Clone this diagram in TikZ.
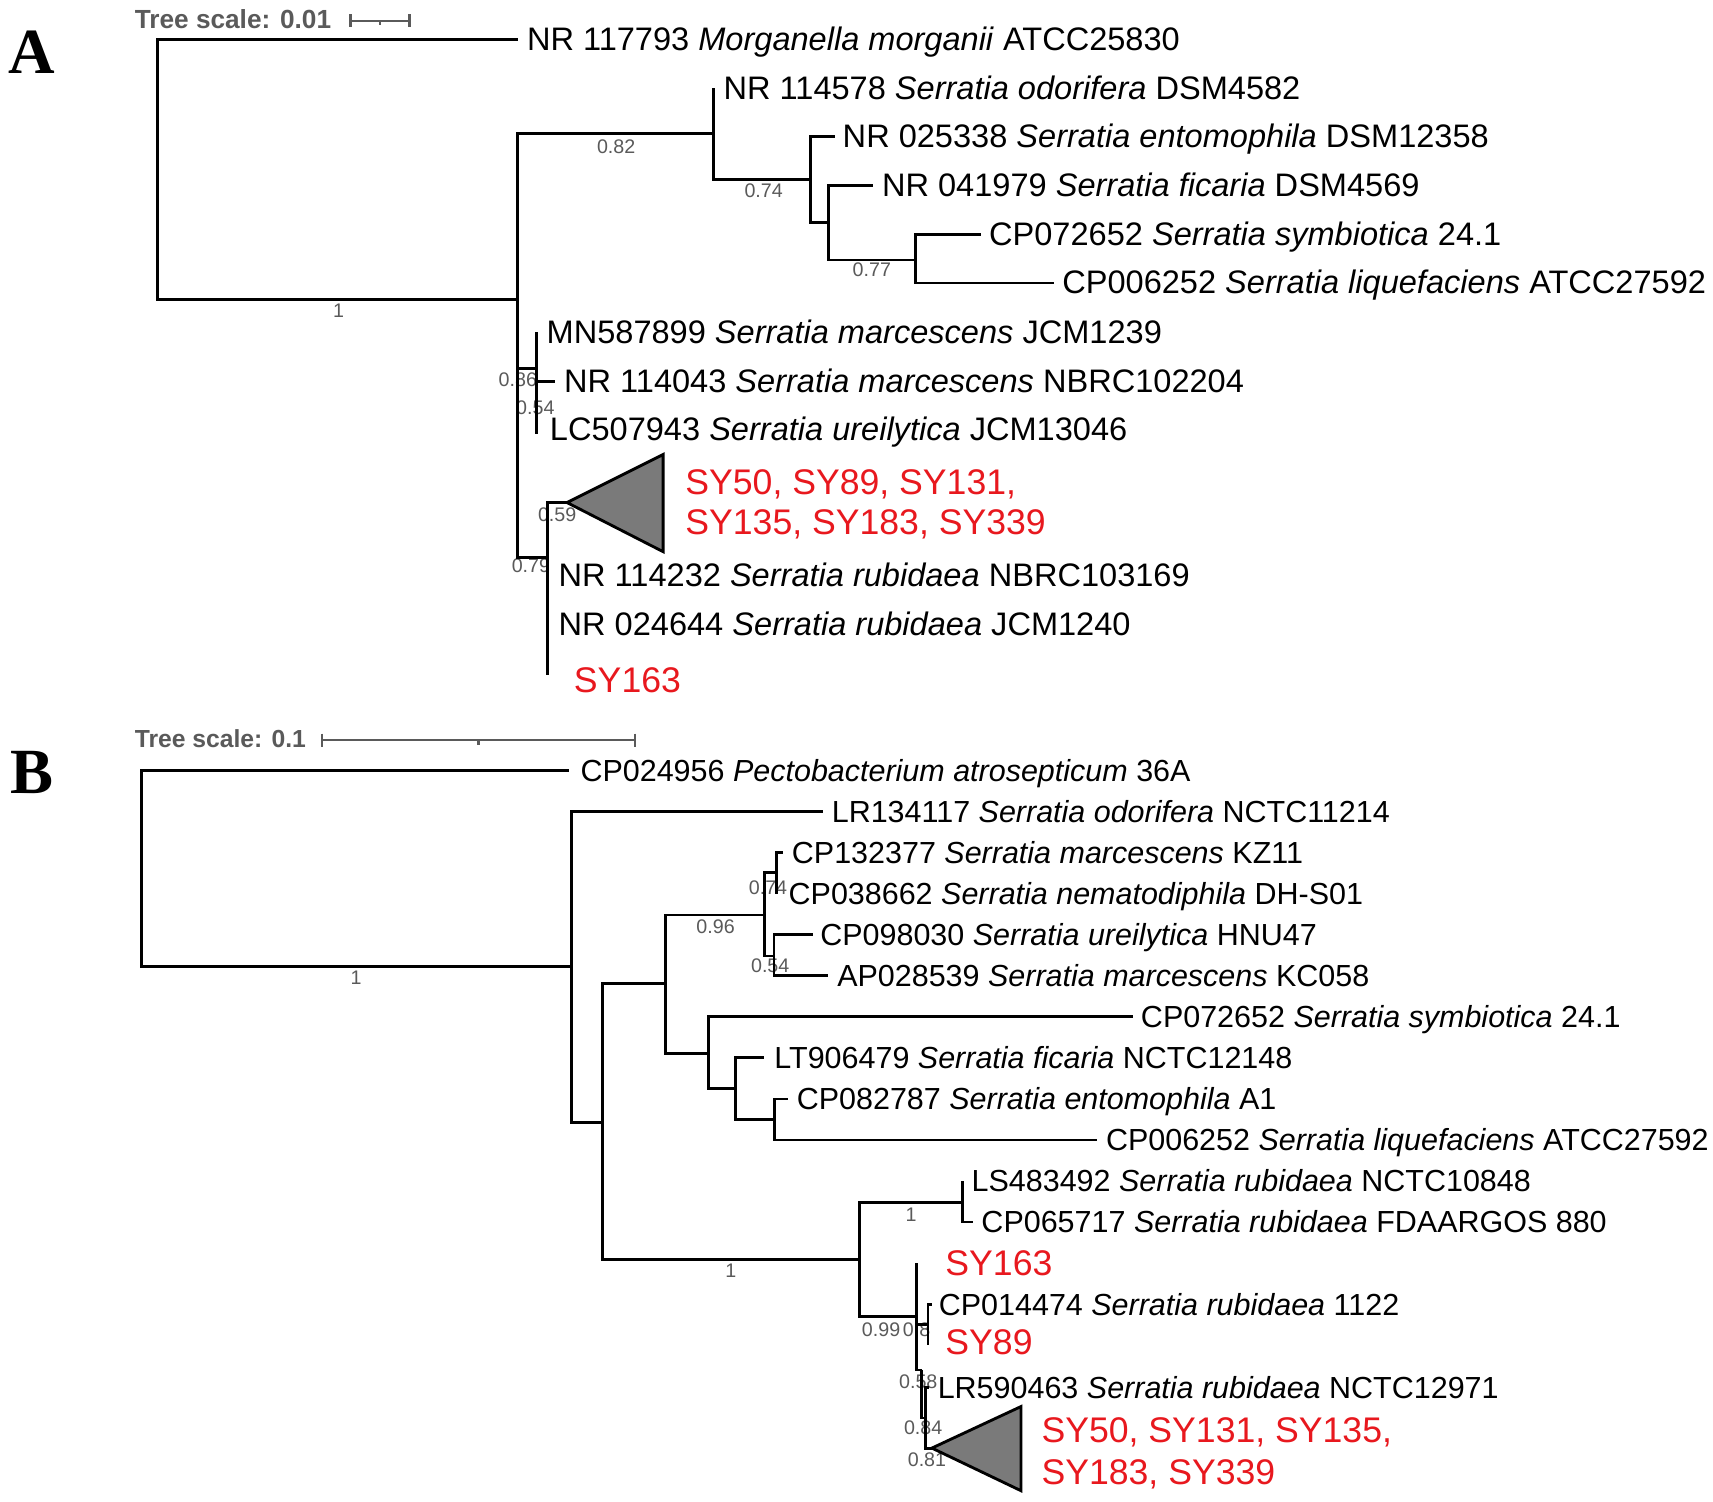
\documentclass[tikz,border=0pt]{standalone}
\usepackage{fontspec}
\setmainfont{Liberation Sans}
\newfontfamily\panelfont{Liberation Serif}
\definecolor{isored}{RGB}{232,24,30}
\definecolor{bootgray}{RGB}{90,90,90}
\definecolor{cladegray}{RGB}{122,122,122}
\begin{document}
\begin{tikzpicture}[x=0.5pt,y=-0.5pt,
  br/.style={line width=1.3pt},
  bar/.style={line width=1.1pt,draw=bootgray},
  leafa/.style={anchor=base west,inner sep=0pt,font=\fontsize{14.9}{17}\selectfont},
  leafb/.style={anchor=base west,inner sep=0pt,font=\fontsize{13.95}{16}\selectfont},
  iso/.style={anchor=base west,inner sep=0pt,text=isored,font=\fontsize{16.3}{19}\selectfont},
  boot/.style={inner sep=0pt,text=bootgray,font=\fontsize{9}{10}\selectfont},
  clade/.style={draw,fill=cladegray,line width=1.3pt},
  panel/.style={anchor=base west,inner sep=0pt,font=\panelfont\bfseries\fontsize{29.5}{30}\selectfont},
  scalelabel/.style={anchor=base west,inner sep=0pt,text=bootgray,font=\bfseries\fontsize{12}{14}\selectfont}]
\path[fill=white] (0,0) rectangle (1568,1374);
\useasboundingbox (0,0) rectangle (1568,1374);
\node[panel] (pa) at (7,67) {A};
\node[scalelabel] (sa) at (123,26) {Tree scale: 0.01};
\coordinate (sa0) at (321,19);
\coordinate (sa1) at (375,19);
\coordinate (sam) at (348,19);
\draw[bar] (sa0) -- (sa1);
\draw[bar] (sa0) ++(0,-6) -- ++(0,12);
\draw[bar] (sa1) ++(0,-6) -- ++(0,12);
\draw[bar] (sam) -- ++(0,4);
\node[boot] (ba1) at (310,284) {1};
\node[boot] (ba2) at (564,134) {0.82};
\node[boot] (ba3) at (699,175) {0.74};
\node[boot] (ba4) at (798,247) {0.77};
\node[boot] (ba5) at (474,348) {0.86};
\node[boot] (ba6) at (490,373) {0.54};
\node[boot] (ba7) at (510,471) {0.59};
\node[boot] (ba8) at (486,518) {0.79};
\coordinate (a0) at (144,155);
\coordinate (a1) at (474,274);
\coordinate (a2) at (653,122);
\coordinate (a3) at (742,164);
\coordinate (a4) at (758,204);
\coordinate (a5) at (838,238);
\coordinate (a6) at (491,337);
\coordinate (a7) at (501,510);
\coordinate (a8) at (501,460);
\coordinate (ta1) at (474,36);
\coordinate (ta2) at (653,81);
\coordinate (ta3) at (764,125);
\coordinate (ta4) at (799,170);
\coordinate (ta5) at (898,215);
\coordinate (ta6) at (965,259);
\coordinate (ta7) at (491,304);
\coordinate (ta8) at (508,349);
\coordinate (ta9) at (491,397);
\coordinate (ta10) at (519,460);
\coordinate (ta11) at (501,527);
\coordinate (ta12) at (501,572);
\coordinate (ta13) at (501,618);
\coordinate (ca1) at (607,416);
\coordinate (ca2) at (607,505);
\draw[br] (a0) |- (ta1);
\draw[br] (a0) |- (a1);
\draw[br] (a1) |- (a2);
\draw[br] (a1) |- (a6);
\draw[br] (a1) |- (a7);
\draw[br] (a2) |- (ta2);
\draw[br] (a2) |- (a3);
\draw[br] (a3) |- (ta3);
\draw[br] (a3) |- (a4);
\draw[br] (a4) |- (ta4);
\draw[br] (a4) |- (a5);
\draw[br] (a5) |- (ta5);
\draw[br] (a5) |- (ta6);
\draw[br] (a6) |- (ta7);
\draw[br] (a6) |- (ta8);
\draw[br] (a6) |- (ta9);
\draw[br] (a7) -- (a8) -- (ta10);
\draw[br] (a7) |- (ta11);
\draw[br] (a7) |- (ta12);
\draw[br] (a7) |- (ta13);
\draw[clade] (ta10) -- (ca1) -- (ca2) -- cycle;
\node[leafa] (la1) at (482,46) {NR 117793 \textit{Morganella morganii} ATCC25830};
\node[leafa] (la2) at (662,91) {NR 114578 \textit{Serratia odorifera} DSM4582};
\node[leafa] (la3) at (771,135) {NR 025338 \textit{Serratia entomophila} DSM12358};
\node[leafa] (la4) at (807,180) {NR 041979 \textit{Serratia ficaria} DSM4569};
\node[leafa] (la5) at (905,225) {CP072652 \textit{Serratia symbiotica} 24.1};
\node[leafa] (la6) at (972,269) {CP006252 \textit{Serratia liquefaciens} ATCC27592};
\node[leafa] (la7) at (500,314) {MN587899 \textit{Serratia marcescens} JCM1239};
\node[leafa] (la8) at (516,359) {NR 114043 \textit{Serratia marcescens} NBRC102204};
\node[leafa] (la9) at (503,403) {LC507943 \textit{Serratia ureilytica} JCM13046};
\node[iso] (la10) at (627,453) {SY50, SY89, SY131,};
\node[iso] (la10b) at (627,489) {SY135, SY183, SY339};
\node[leafa] (la11) at (511,537) {NR 114232 \textit{Serratia rubidaea} NBRC103169};
\node[leafa] (la12) at (511,582) {NR 024644 \textit{Serratia rubidaea} JCM1240};
\node[iso] (la13) at (525,634) {SY163};
\node[panel] (pb) at (9,726) {B};
\node[scalelabel,font=\bfseries\fontsize{11.3}{13}\selectfont] (sb) at (123,684) {Tree scale: 0.1};
\coordinate (sb0) at (295,677.5);
\coordinate (sb1) at (581.5,677.5);
\coordinate (sbm) at (438,677.5);
\draw[bar] (sb0) -- (sb1);
\draw[bar] (sb0) ++(0,-6) -- ++(0,12);
\draw[bar] (sb1) ++(0,-6) -- ++(0,12);
\draw[bar] (sbm) -- ++(0,4);
\node[boot] (bb1) at (326,895) {1};
\node[boot] (bb2) at (655,848) {0.96};
\node[boot] (bb3) at (703,813) {0.74};
\node[boot] (bb4) at (705,884) {0.54};
\node[boot] (bb5) at (834,1112) {1};
\node[boot] (bb6) at (669,1163) {1};
\node[boot] (bb7) at (806.5,1217.5) {0.99};
\node[boot] (bb8) at (839,1217) {0.8};
\node[boot] (bb9) at (840.5,1265) {0.58};
\node[boot] (bb10) at (845,1307) {0.84};
\node[boot] (bb11) at (848.5,1336.5) {0.81};
\coordinate (b0) at (129.5,795);
\coordinate (b1) at (523.5,885);
\coordinate (b2) at (551.5,1027.5);
\coordinate (b3) at (609.5,900.5);
\coordinate (b4) at (648.5,964);
\coordinate (b5) at (673,996);
\coordinate (b6) at (709,1025);
\coordinate (b7) at (786.5,1152.5);
\coordinate (b8) at (881,1101);
\coordinate (b9) at (839,1205);
\coordinate (b10) at (700,837.5);
\coordinate (b11) at (711,799);
\coordinate (b12) at (708.5,875);
\coordinate (b13) at (849.5,1212);
\coordinate (b14) at (843.5,1254);
\coordinate (b15) at (847.5,1298);
\coordinate (tb1) at (521,705);
\coordinate (tb2) at (753,743);
\coordinate (tb3) at (717,780);
\coordinate (tb4) at (711,818);
\coordinate (tb5) at (744,855.5);
\coordinate (tb6) at (758,893);
\coordinate (tb7) at (1037,930.5);
\coordinate (tb8) at (699.5,968);
\coordinate (tb9) at (721,1006);
\coordinate (tb10) at (1004.5,1043.5);
\coordinate (tb11) at (881,1081);
\coordinate (tb12) at (890.5,1118.5);
\coordinate (tb13) at (839,1156);
\coordinate (tb14) at (853,1194);
\coordinate (tb15) at (849.5,1231);
\coordinate (tb16) at (850.5,1270);
\coordinate (tb17) at (853,1325.5);
\coordinate (cb1) at (934.5,1287.5);
\coordinate (cb2) at (934.5,1364.5);
\draw[br] (b0) |- (tb1);
\draw[br] (b0) |- (b1);
\draw[br] (b1) |- (tb2);
\draw[br] (b1) |- (b2);
\draw[br] (b2) |- (b3);
\draw[br] (b2) |- (b7);
\draw[br] (b3) |- (b10);
\draw[br] (b3) |- (b4);
\draw[br] (b10) |- (b11);
\draw[br] (b10) |- (b12);
\draw[br] (b11) |- (tb3);
\draw[br] (b11) |- (tb4);
\draw[br] (b12) |- (tb5);
\draw[br] (b12) |- (tb6);
\draw[br] (b4) |- (tb7);
\draw[br] (b4) |- (b5);
\draw[br] (b5) |- (tb8);
\draw[br] (b5) |- (b6);
\draw[br] (b6) |- (tb9);
\draw[br] (b6) |- (tb10);
\draw[br] (b7) |- (b8);
\draw[br] (b7) |- (b9);
\draw[br] (b8) |- (tb11);
\draw[br] (b8) |- (tb12);
\draw[br] (b9) |- (tb13);
\draw[br] (b9) |- (b13);
\draw[br] (b9) |- (b14);
\draw[br] (b13) |- (tb14);
\draw[br] (b13) |- (tb15);
\draw[br] (b14) |- (b15);
\draw[br] (b15) |- (tb16);
\draw[br] (b15) |- (tb17);
\draw[clade] (tb17) -- (cb1) -- (cb2) -- cycle;
\node[leafb] (lb1) at (531,715) {CP024956 \textit{Pectobacterium atrosepticum} 36A};
\node[leafb] (lb2) at (761,753) {LR134117 \textit{Serratia odorifera} NCTC11214};
\node[leafb] (lb3) at (724.5,790) {CP132377 \textit{Serratia marcescens} KZ11};
\node[leafb] (lb4) at (721.5,828) {CP038662 \textit{Serratia nematodiphila} DH-S01};
\node[leafb] (lb5) at (750.5,865.5) {CP098030 \textit{Serratia ureilytica} HNU47};
\node[leafb] (lb6) at (766,903) {AP028539 \textit{Serratia marcescens} KC058};
\node[leafb] (lb7) at (1044,940.5) {CP072652 \textit{Serratia symbiotica} 24.1};
\node[leafb] (lb8) at (708.5,978) {LT906479 \textit{Serratia ficaria} NCTC12148};
\node[leafb] (lb9) at (729,1016) {CP082787 \textit{Serratia entomophila} A1};
\node[leafb] (lb10) at (1012,1053.5) {CP006252 \textit{Serratia liquefaciens} ATCC27592};
\node[leafb] (lb11) at (889,1091) {LS483492 \textit{Serratia rubidaea} NCTC10848};
\node[leafb] (lb12) at (898,1128.5) {CP065717 \textit{Serratia rubidaea} FDAARGOS 880};
\node[iso] (lb13) at (865,1167.5) {SY163};
\node[leafb] (lb14) at (859,1204) {CP014474 \textit{Serratia rubidaea} 1122};
\node[iso] (lb15) at (865,1239.5) {SY89};
\node[leafb] (lb16) at (858,1280) {LR590463 \textit{Serratia rubidaea} NCTC12971};
\node[iso] (lb17) at (953,1320) {SY50, SY131, SY135,};
\node[iso] (lb17b) at (953,1359) {SY183, SY339};
\end{tikzpicture}
\end{document}
